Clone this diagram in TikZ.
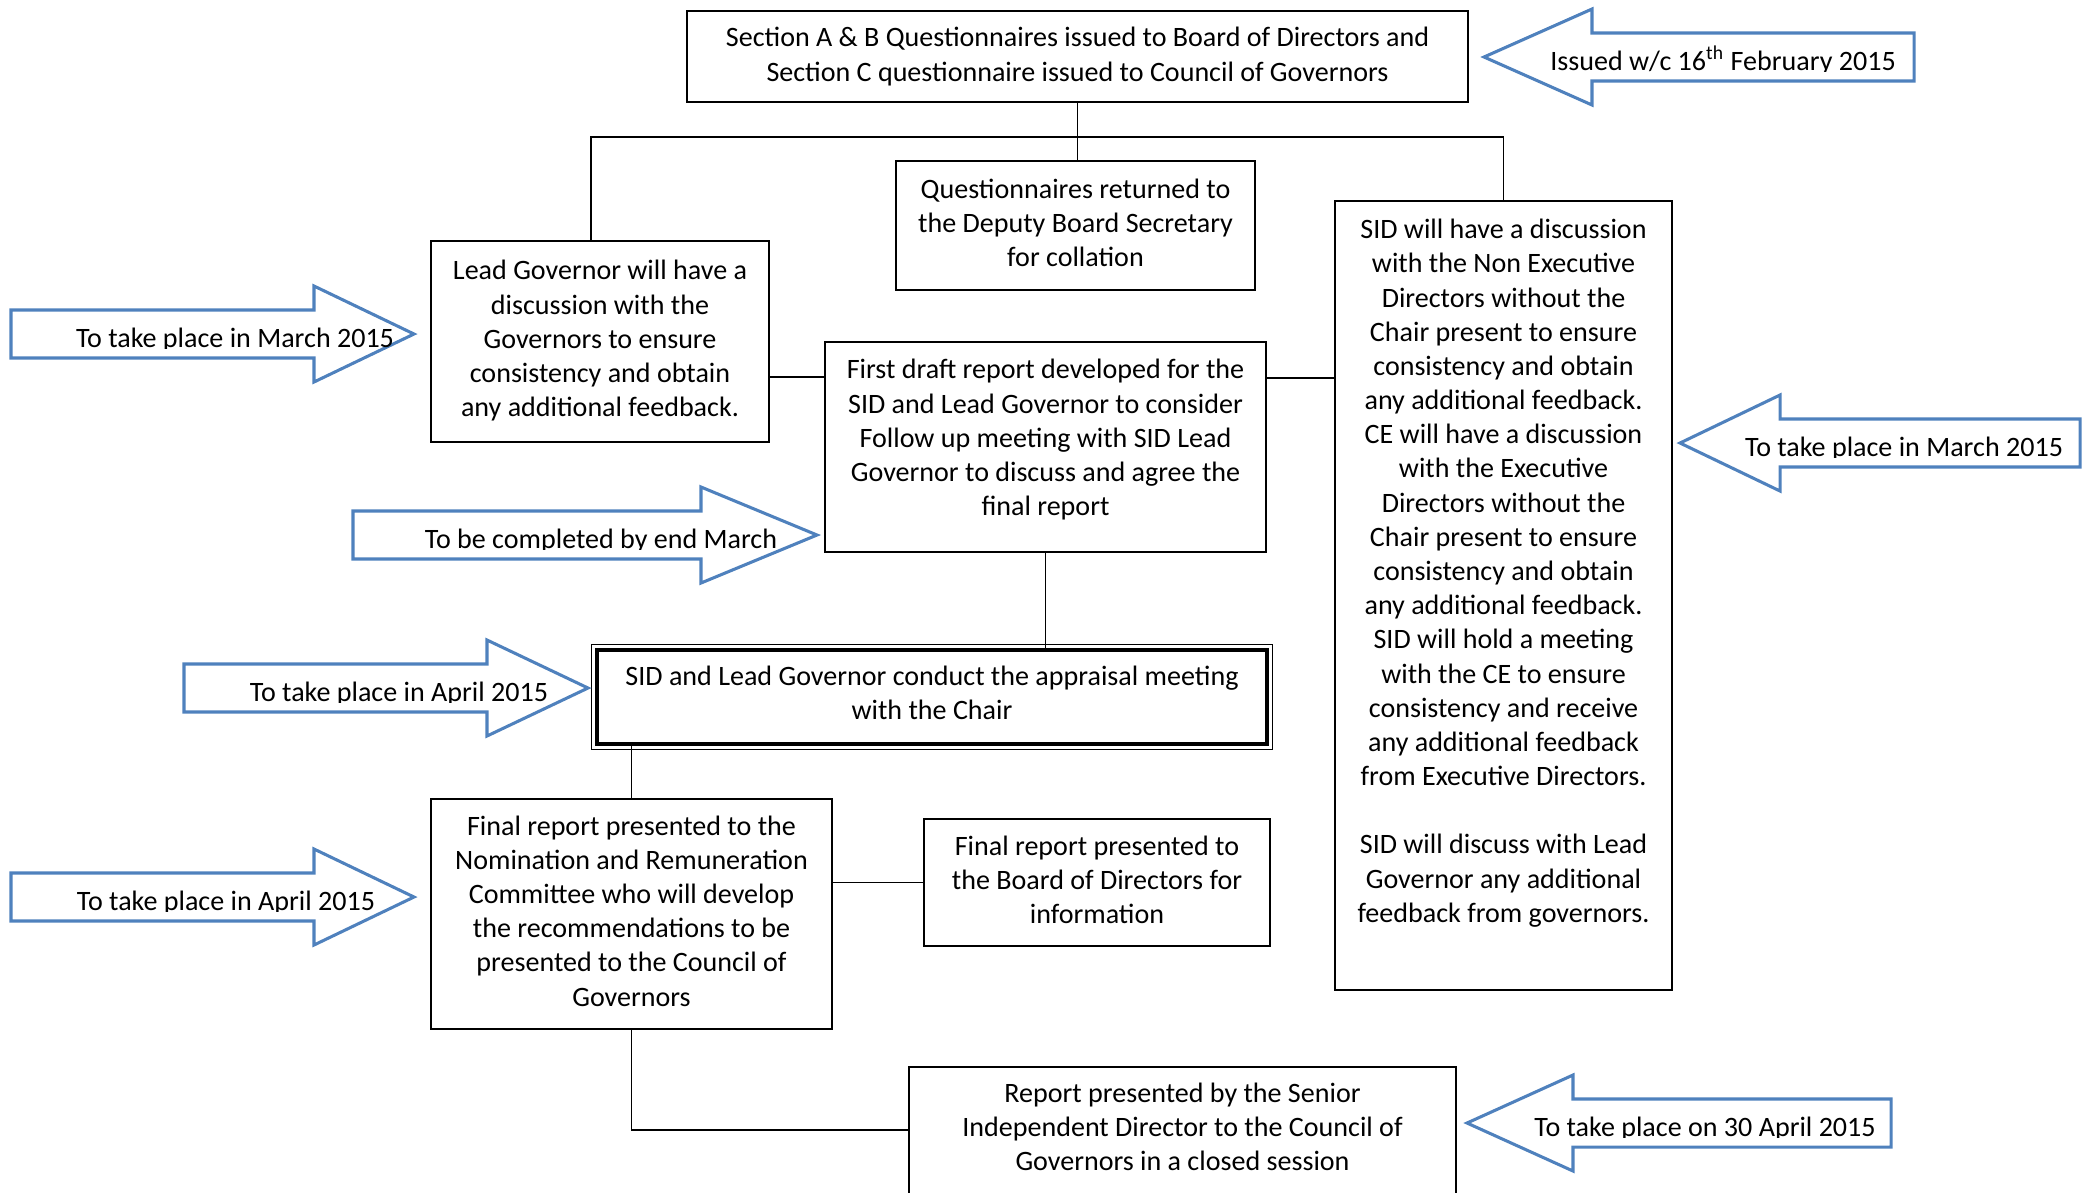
\documentclass[tikz,border=0pt]{standalone}
\usepackage{fontspec}
\setmainfont{Carlito}
\usetikzlibrary{positioning,calc}
\definecolor{calloutblue}{RGB}{79,129,189}
\newcommand{\px}[1]{#1*0.392pt}
% blue block arrow with its date text (descenders cut off as in the source)
\newcommand{\datearrow}[7]{%
  \draw[callout] (#2,#5-24) -- (#3,#5-24) -- (#3,#5-48) -- (#4,#5)
    -- (#3,#5+48) -- (#3,#5+24) -- (#2,#5+24) -- cycle;
  \begin{scope}
    \clip (#2,#5-48) rectangle (#4,#5+14);
    \node[calltext] (#1) at (#6,#5+13) {#7};
  \end{scope}}

\begin{document}
\begin{tikzpicture}[x=0.392pt,y=-0.392pt,
  box/.style={draw,line width=0.8pt,align=center,inner sep=0pt,
    font=\fontsize{11}{13.4}\selectfont},
  link/.style={line width=0.6pt},
  callout/.style={draw=calloutblue,line width=1.2pt,line join=miter},
  calltext/.style={anchor=base,inner sep=0pt,font=\fontsize{11}{13.4}\selectfont}]
  \useasboundingbox (0,0) rectangle (2087,1192);

  % process boxes
  \node[box,minimum width=\px{781},minimum height=\px{91}] (issue) at (1077.5,56.5)
    {Section A \& B Questionnaires issued to Board of Directors and\\
     Section C questionnaire issued to Council of Governors};
  \node[box,minimum width=\px{359},minimum height=\px{129}] (quest) at (1075.5,225.5)
    {Questionnaires returned to\\the Deputy Board Secretary\\for collation\\[-11pt]\mbox{}};
  \node[box,minimum width=\px{338},minimum height=\px{201}] (leadgov) at (600,341.5)
    {Lead Governor will have a\\discussion with the\\Governors to ensure\\
     consistency and obtain\\any additional feedback.\\[-11pt]\mbox{}};
  \node[box,minimum width=\px{441},minimum height=\px{210}] (draft) at (1045.5,447)
    {First draft report developed for the\\SID and Lead Governor to consider\\
     Follow up meeting with SID Lead\\Governor to discuss and agree the\\final report\\[-6pt]\mbox{}};
  \node[box,minimum width=\px{337},minimum height=\px{789}] (sid) at (1503.5,595.5)
    {SID will have a discussion\\with the Non Executive\\Directors without the\\
     Chair present to ensure\\consistency and obtain\\any additional feedback.\\
     CE will have a discussion\\with the Executive\\Directors without the\\
     Chair present to ensure\\consistency and obtain\\any additional feedback.\\
     SID will hold a meeting\\with the CE to ensure\\consistency and receive\\
     any additional feedback\\from Executive Directors.\\[13.4pt]
     SID will discuss with Lead\\Governor any additional\\feedback from governors.\\[6pt]\mbox{}};
  \node[box,line width=1.2pt,minimum width=\px{670},minimum height=\px{94}] (sidlead) at (932,697)
    {SID and Lead Governor conduct the appraisal meeting\\with the Chair\\[-10pt]\mbox{}};
  \draw[line width=0.4pt] ($(sidlead.north west)+(-4,-4)$) rectangle ($(sidlead.south east)+(4,4)$);
  \node[box,minimum width=\px{401},minimum height=\px{230}] (final) at (631.5,914)
    {Final report presented to the\\Nomination and Remuneration\\Committee who will develop\\
     the recommendations to be\\presented to the Council of\\Governors\\[-11pt]\mbox{}};
  \node[box,minimum width=\px{346},minimum height=\px{127}] (board) at (1097,882.5)
    {Final report presented to\\the Board of Directors for\\information\\[-11pt]\mbox{}};
  \node[box,minimum width=\px{547},minimum height=\px{133}] (report) at (1182.5,1133.5)
    {Report presented by the Senior\\Independent Director to the Council of\\
     Governors in a closed session\\[-8pt]\mbox{}};

  % connectors
  \coordinate (bar) at (1077,137);
  \draw[link] (issue.south) -- (issue.south |- quest.north);
  \draw[link] (591,0 |- leadgov.north) |- (bar) -| (sid.north);
  \draw[link] (leadgov.east |- 0,377) -- (draft.west |- 0,377);
  \draw[link] (draft.east |- 0,378) -- (sid.west |- 0,378);
  \draw[link] (draft.south) -- (draft.south |- sidlead.north);
  \draw[link] (final.north) -- (final.north |- sidlead.south);
  \draw[link] (final.east |- board.west) -- (board.west);
  \draw[link] (final.south) |- (report.west |- 0,1130);

  % date arrows
  \datearrow{whenissue}{1914}{1592}{1484}{57}{1723}{Issued w/c 16\textsuperscript{th} February 2015}
  \datearrow{whenleadgov}{11}{314}{414}{334}{235}{To take place in March 2015}
  \datearrow{whendraft}{353}{701}{817}{535}{601}{To be completed by end March}
  \datearrow{whenmeeting}{184}{487}{588}{688}{399}{To take place in April 2015}
  \datearrow{whenfinal}{11}{314}{414}{897}{226}{To take place in April 2015}
  \datearrow{whensid}{2080}{1780}{1680}{443}{1904}{To take place in March 2015}
  \datearrow{whenreport}{1891}{1573}{1467}{1123}{1705}{To take place on 30 April 2015}
\end{tikzpicture}
\end{document}
